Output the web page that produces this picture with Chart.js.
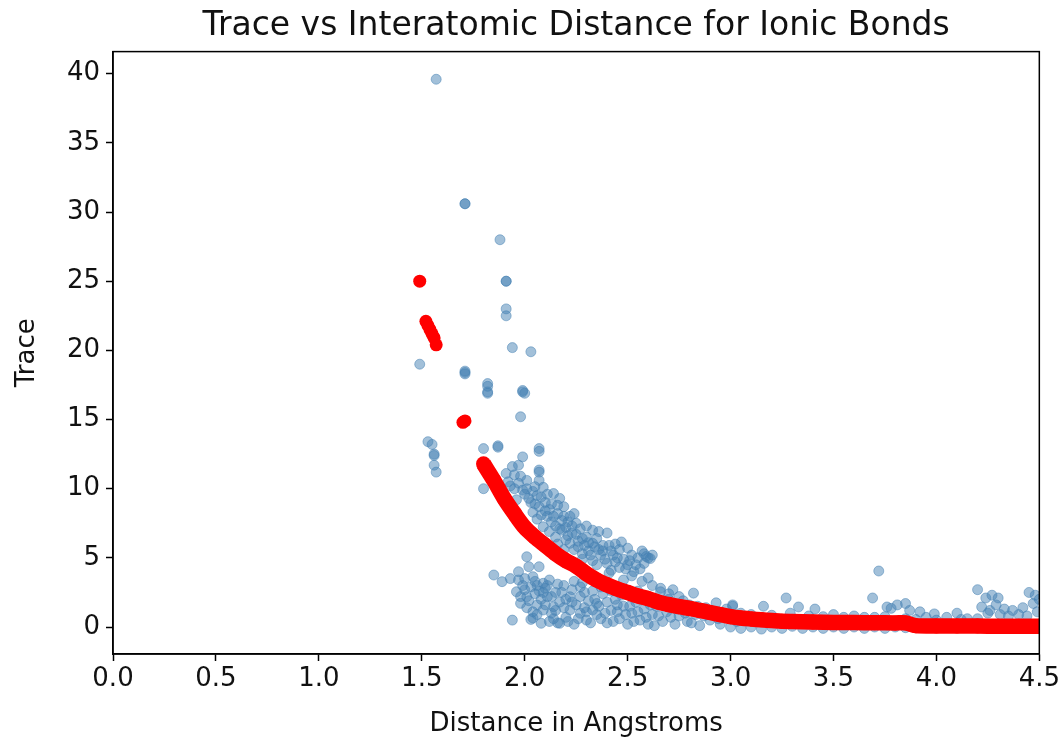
<!DOCTYPE html>
<html>
<head>
<meta charset="utf-8">
<script src="https://cdn.jsdelivr.net/npm/chart.js@4.4.0/dist/chart.umd.min.js"></script>
<style>
  html, body { margin: 0; padding: 0; background: #fff; }
  #wrap { width: 1063px; height: 742px; }
</style>
</head>
<body>
<div id="wrap"><canvas id="traceChart" width="1063" height="742"></canvas></div>
<script>
// tick labels
const xTickValues = [0, 0.5, 1.0, 1.5, 2.0, 2.5, 3.0, 3.5, 4.0, 4.5];
const yTickValues = [0, 5, 10, 15, 20, 25, 30, 35, 40];

const sparsePoints = [
  [1.57, 39.6], [1.71, 30.6], [1.71, 30.6], [1.88, 28.0], [1.91, 25.0], [1.91, 25.0],
  [1.91, 23.0], [1.91, 22.5], [1.94, 20.2], [2.03, 19.9], [1.49, 19.0],
  [1.71, 18.4], [1.71, 18.3], [1.71, 18.5], [1.82, 17.6], [1.82, 17.4], [1.82, 17.0], [1.82, 16.9],
  [1.99, 17.0], [1.99, 17.1], [2.00, 16.9], [1.98, 15.2],
  [1.53, 13.4], [1.55, 13.2], [1.56, 12.5], [1.56, 12.4], [1.56, 11.7], [1.57, 11.2],
  [1.80, 12.9], [1.87, 13.1], [1.87, 13.0], [2.07, 12.9], [2.07, 12.7], [1.99, 12.3], [1.80, 10.0]
];
const upperCluster = [
  [1.91, 11.1], [1.92, 10.5], [1.94, 11.6], [1.97, 11.7], [1.98, 10.9], [2.01, 10.0], [2.05, 10.15],
  [2.07, 11.35], [2.07, 11.2], [2.07, 10.6], [2.08, 9.4], [2.07, 8.7], [2.14, 9.65], [2.17, 9.3],
  [2.19, 8.7], [2.16, 8.2], [2.11, 8.0], [2.09, 7.25], [2.22, 8.0], [2.24, 8.2], [2.25, 7.5],
  [2.23, 6.8], [2.17, 7.1], [2.15, 6.5], [2.30, 6.5], [2.33, 7.0], [2.33, 6.05], [2.36, 5.6],
  [2.28, 5.3], [2.22, 6.05], [2.19, 5.6], [1.95, 10.0], [1.96, 9.2], [2.00, 9.6], [2.03, 9.0],
  [2.04, 8.3], [2.06, 7.8], [2.10, 9.0], [2.12, 8.5], [2.13, 7.6], [2.18, 7.7], [2.20, 7.2],
  [2.21, 6.6], [2.26, 6.2], [2.27, 7.1], [2.29, 5.9], [2.31, 5.5], [2.12, 6.9], [2.16, 6.0],
  [2.24, 5.6], [2.35, 6.4], [2.38, 5.9], [2.40, 6.8], [2.37, 5.2], [2.42, 5.5], [2.44, 6.0],
  [2.45, 5.0], [2.47, 6.15], [2.50, 5.7], [2.52, 5.2], [2.55, 5.0], [2.57, 5.5], [2.59, 5.1],
  [2.60, 5.0], [2.58, 5.3], [2.61, 4.95], [2.62, 5.2], [2.40, 4.6], [2.46, 4.3], [2.50, 4.5],
  [2.53, 4.0], [2.33, 4.8], [2.28, 4.9]
];
const upperFill = [
  [1.93, 10.2], [1.95, 11.0], [1.97, 10.4], [1.99, 9.9], [2.01, 10.6], [2.02, 9.3], [2.04, 9.8],
  [2.05, 8.9], [2.06, 9.5], [2.08, 8.1], [2.09, 10.1], [2.10, 8.4], [2.11, 9.6], [2.13, 8.9],
  [2.14, 8.0], [2.15, 7.3], [2.16, 8.8], [2.18, 7.0], [2.19, 8.0], [2.20, 6.3], [2.21, 7.6],
  [2.23, 7.3], [2.25, 6.7], [2.26, 5.8], [2.28, 6.4], [2.30, 7.3], [2.31, 6.1], [2.32, 5.2],
  [2.34, 5.8], [2.36, 6.9], [2.38, 5.5], [2.39, 4.9], [2.41, 5.9], [2.43, 5.2], [2.44, 4.7],
  [2.46, 5.6], [2.48, 4.9], [2.49, 4.2], [2.51, 4.8], [2.54, 4.5], [2.56, 4.2], [2.58, 4.6],
  [2.35, 4.5], [2.42, 4.1], [2.52, 3.7], [2.57, 3.3], [2.62, 3.0], [2.66, 2.8], [2.70, 2.4],
  [2.75, 2.2]
];
const lowerCluster = [
  [1.85, 3.76], [1.89, 3.28], [1.93, 3.5], [1.97, 4.0], [1.96, 2.55], [2.01, 5.08], [2.02, 4.36],
  [2.04, 3.64], [2.07, 4.36], [2.09, 3.16], [2.01, 2.19], [1.98, 1.71], [2.06, 1.59], [2.11, 2.19],
  [2.09, 1.23], [1.94, 0.5], [2.03, 0.55], [2.04, 0.65], [2.08, 0.27], [2.17, 0.27], [2.16, 0.3],
  [2.22, 2.19], [2.22, 1.23], [2.27, 0.99], [2.33, 1.23], [2.14, 1.47],
  [1.99, 3.0], [2.00, 2.7], [2.02, 1.9], [2.05, 2.4], [2.06, 3.0], [2.08, 2.0], [2.10, 2.8],
  [2.12, 3.4], [2.13, 1.0], [2.15, 2.5], [2.17, 1.8], [2.19, 3.0], [2.20, 0.7], [2.23, 2.7],
  [2.25, 1.6], [2.27, 2.2], [2.28, 3.2], [2.30, 0.5], [2.31, 1.9], [2.33, 2.6], [2.35, 0.9],
  [2.36, 1.5], [2.38, 2.4], [2.40, 0.3], [2.41, 3.9], [2.42, 1.2], [2.44, 2.0], [2.46, 0.6],
  [2.48, 3.4], [2.48, 1.5], [2.50, 0.2], [2.52, 1.0], [2.54, 1.8], [2.56, 0.5], [2.58, 1.3],
  [2.60, 3.55], [2.60, 0.2], [2.62, 0.9], [2.64, 1.5], [2.66, 2.55], [2.67, 0.4], [2.69, 1.1],
  [2.72, 2.7], [2.73, 0.2], [2.75, 0.8], [2.77, 1.9], [2.79, 0.4], [2.82, 2.45], [2.83, 0.9],
  [2.85, 0.1], [2.88, 1.4], [2.90, 0.5], [2.93, 1.75], [2.95, 0.2], [2.97, 0.8], [3.00, 0.0],
  [3.01, 1.6], [3.03, 0.4], [2.14, 0.6], [2.24, 0.2], [2.29, 1.4], [2.37, 0.6], [2.45, 1.1],
  [2.55, 2.6], [2.63, 0.1], [2.70, 2.0], [2.80, 1.6]
];
const lowerFill = [
  [1.97, 3.4], [1.98, 2.2], [2.00, 3.5], [2.01, 1.4], [2.03, 2.9], [2.04, 1.1], [2.05, 3.3],
  [2.06, 0.9], [2.07, 2.6], [2.09, 2.5], [2.10, 1.6], [2.11, 3.0], [2.12, 0.4], [2.13, 2.2],
  [2.15, 1.2], [2.16, 3.1], [2.18, 2.5], [2.19, 1.4], [2.20, 2.0], [2.21, 0.4], [2.23, 1.8],
  [2.24, 3.3], [2.26, 0.6], [2.27, 2.9], [2.29, 2.5], [2.30, 1.1], [2.32, 0.3], [2.34, 2.0],
  [2.35, 1.7], [2.37, 2.9], [2.39, 1.0], [2.40, 1.8], [2.42, 2.6], [2.43, 0.4], [2.45, 1.6],
  [2.47, 2.3], [2.49, 0.9], [2.51, 1.5], [2.53, 0.4], [2.55, 1.1], [2.57, 2.0], [2.59, 0.7],
  [2.61, 1.6], [2.65, 0.8], [2.68, 1.7], [2.71, 0.7], [2.74, 1.3], [2.78, 1.0], [2.81, 0.3],
  [2.84, 1.5], [2.87, 0.8], [2.91, 1.1], [2.94, 0.6], [2.98, 1.3]
];
const tailPoints = [
  [3.05, -0.1], [3.10, 0.0], [3.15, -0.15], [3.20, 0.0], [3.25, -0.1], [3.30, 0.05], [3.35, -0.1],
  [3.40, 0.0], [3.45, -0.1], [3.50, 0.0], [3.55, -0.1], [3.60, 0.0], [3.65, -0.1], [3.70, 0.0],
  [3.75, -0.1], [3.80, 0.0], [3.85, -0.05],
  [3.01, 1.5], [3.16, 1.5], [3.27, 2.1], [3.29, 1.0], [3.33, 1.45], [3.41, 1.3], [3.50, 0.9],
  [3.60, 0.8], [3.69, 2.1], [3.72, 4.05], [3.76, 1.45], [3.78, 1.35], [3.81, 1.6], [3.85, 1.7],
  [3.87, 1.2], [3.92, 1.1], [3.95, 0.7], [3.99, 0.95], [4.05, 0.7], [4.10, 1.0], [4.15, 0.6],
  [4.20, 2.7], [4.22, 1.45], [4.24, 2.1], [4.25, 1.0], [4.26, 1.2], [4.27, 2.3], [4.29, 1.6],
  [4.30, 2.1], [4.31, 0.9], [4.33, 1.3], [4.35, 0.8], [4.37, 1.2], [4.40, 0.9], [4.42, 1.4],
  [4.44, 0.8], [4.45, 2.5], [4.47, 1.7], [4.48, 2.3], [4.49, 1.1], [4.50, 2.0],
  [3.05, 1.0], [3.10, 0.9], [3.20, 0.85], [3.38, 0.8], [3.45, 0.75], [3.55, 0.7], [3.65, 0.7],
  [3.70, 0.7], [3.75, 0.75], [3.85, 0.6], [3.90, 0.55], [4.00, 0.5], [4.12, 0.55], [4.20, 0.6]
];

// fitted trace (red)
const fitDistance = [1.80, 1.85, 1.90, 1.95, 2.00, 2.05, 2.10, 2.15, 2.20, 2.25, 2.30, 2.35, 2.40,
  2.45, 2.50, 2.55, 2.60, 2.65, 2.70, 2.75, 2.80, 2.85, 2.90, 2.95, 3.00, 3.05, 3.10, 3.15, 3.20,
  3.25, 3.30, 3.40, 3.50, 3.60, 3.70, 3.80, 3.85, 3.90, 4.00, 4.10, 4.20, 4.30, 4.40, 4.50];
const fitTrace = [11.8, 10.6, 9.3, 8.2, 7.2, 6.5, 5.9, 5.3, 4.8, 4.4, 3.85, 3.4, 3.05,
  2.75, 2.5, 2.25, 2.05, 1.8, 1.62, 1.47, 1.35, 1.2, 1.05, 0.9, 0.75, 0.65, 0.58, 0.52, 0.47,
  0.42, 0.40, 0.37, 0.33, 0.32, 0.31, 0.30, 0.30, 0.10, 0.08, 0.07, 0.07, 0.06, 0.06, 0.06];
const fitOutlierDistance = [1.49, 1.52, 1.53, 1.54, 1.55, 1.56, 1.57, 1.70, 1.71];
const fitOutlierTrace = [25.0, 22.1, 21.8, 21.5, 21.2, 20.9, 20.4, 14.8, 14.9];

const toXY = pairs => pairs.map(p => ({ x: p[0], y: p[1] }));
const zipXY = (xs, ys) => xs.map((x, i) => ({ x: x, y: ys[i] }));

const blue = 'rgba(70,130,180,0.5)';
const font = 'DejaVu Sans';

const frame = {
  id: 'frame',
  afterDraw(chart) {
    const { ctx, chartArea: a } = chart;
    ctx.save();
    ctx.strokeStyle = '#000';
    ctx.lineWidth = 1.5;
    ctx.strokeRect(a.left, a.top, a.right - a.left, a.bottom - a.top);
    ctx.restore();
  }
};

const observed = sparsePoints.concat(upperCluster, upperFill, lowerCluster, lowerFill, tailPoints);

new Chart(document.getElementById('traceChart'), {
  type: 'scatter',
  data: {
    datasets: [
      {
        data: zipXY(fitOutlierDistance, fitOutlierTrace),
        backgroundColor: 'red', borderColor: 'red', borderWidth: 0,
        pointRadius: 6.5, order: 0, clip: 0
      },
      {
        data: zipXY(fitDistance, fitTrace),
        showLine: true, borderColor: 'red', borderWidth: 15.5, backgroundColor: 'red',
        pointRadius: 7.5, pointBorderWidth: 0, tension: 0.3, order: 0, clip: 0
      },
      {
        data: toXY(observed),
        backgroundColor: blue, borderColor: blue, borderWidth: 1,
        pointRadius: 5, order: 1, clip: 0
      }
    ]
  },
  options: {
    responsive: false,
    animation: false,
    devicePixelRatio: 1,
    layout: { padding: { left: 0, right: 23, top: 0, bottom: 0 } },
    plugins: {
      legend: { display: false },
      tooltip: { enabled: false },
      title: {
        display: true,
        text: 'Trace vs Interatomic Distance for Ionic Bonds',
        fullSize: false,
        color: '#111',
        font: { family: font, size: 33, weight: 'normal' },
        padding: { top: 7, bottom: 5 }
      }
    },
    scales: {
      x: {
        type: 'linear', min: 0, max: 4.5,
        afterBuildTicks: s => { s.ticks = xTickValues.map(v => ({ value: v })); },
        afterFit: s => { s.height = 88; },
        ticks: { color: '#111', font: { family: font, size: 26 }, padding: 3,
                 callback: v => v.toFixed(1), maxRotation: 0, autoSkip: false },
        grid: { drawOnChartArea: false, drawTicks: true, tickLength: 7, tickColor: '#000', tickWidth: 1.5 },
        border: { display: true, color: '#000', width: 1.5 },
        title: { display: true, text: 'Distance in Angstroms', color: '#111',
                 font: { family: font, size: 26 }, padding: { top: 0, bottom: 2 } }
      },
      y: {
        type: 'linear', min: -1.95, max: 41.6,
        afterBuildTicks: s => { s.ticks = yTickValues.map(v => ({ value: v })); },
        afterFit: s => { s.width = 113; },
        ticks: { color: '#111', font: { family: font, size: 26 }, padding: 6, autoSkip: false },
        grid: { drawOnChartArea: false, drawTicks: true, tickLength: 7, tickColor: '#000', tickWidth: 1.5 },
        border: { display: true, color: '#000', width: 1.5 },
        title: { display: true, text: 'Trace', color: '#111',
                 font: { family: font, size: 26 }, padding: { top: 12, bottom: 0 } }
      }
    }
  },
  plugins: [frame]
});
</script>
</body>
</html>
